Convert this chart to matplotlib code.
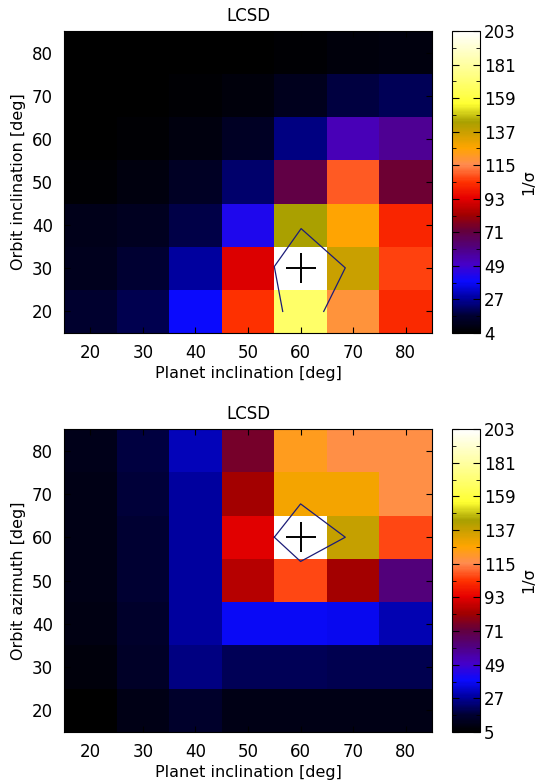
import numpy as np
import matplotlib.pyplot as plt
from matplotlib.colors import LinearSegmentedColormap

# grid of angles (deg)
planet_inc = [20, 30, 40, 50, 60, 70, 80]
orbit_ang = [20, 30, 40, 50, 60, 70, 80]

# 1/sigma, rows = orbit angle 20..80, cols = planet inclination 20..80
top_vals = np.array([
    [15, 19, 38, 103, 168, 118, 102],  # 20
    [11, 16, 27, 92, 203, 137, 106],   # 30
    [10, 12, 18, 42, 143, 126, 101],   # 40
    [6, 8, 13, 22, 70, 109, 73],       # 50
    [4, 6, 8, 13, 24, 52, 58],         # 60
    [4, 4, 6, 7, 11, 17, 20],          # 70
    [4, 4, 4, 4, 6, 7, 8],             # 80
])
bot_vals = np.array([
    [5, 10, 15, 10, 10, 10, 10],       # 20
    [8, 14, 25, 20, 20, 19, 19],       # 30
    [9, 15, 28, 38, 38, 37, 30],       # 40
    [10, 16, 28, 86, 107, 83, 62],     # 50
    [10, 16, 28, 93, 203, 138, 107],   # 60
    [10, 17, 28, 83, 128, 128, 117],   # 70
    [11, 18, 31, 75, 122, 117, 117],   # 80
])

top_cb_labels = ['4', '27', '49', '71', '93', '115', '137', '159', '181', '203']
bot_cb_labels = ['5', '27', '49', '71', '93', '115', '137', '159', '181', '203']

# best-fit contours and best point
top_contour_x = [56.6, 55.0, 60.1, 68.5, 64.4]
top_contour_y = [20.0, 30.4, 39.2, 30.1, 20.0]
bot_contour_x = [55.0, 60.0, 68.5, 60.0, 55.0]
bot_contour_y = [60.0, 67.7, 60.0, 54.4, 60.0]
top_best = (60, 30)
bot_best = (60, 60)

# IDL-like colour table
stops = [
    (0.00, (0, 0, 0)),
    (0.055, (0, 0, 50)),
    (0.115, (0, 0, 160)),
    (0.17, (10, 10, 255)),
    (0.226, (70, 0, 200)),
    (0.28, (80, 0, 130)),
    (0.337, (100, 0, 60)),
    (0.39, (160, 0, 0)),
    (0.447, (230, 0, 0)),
    (0.50, (255, 50, 0)),
    (0.558, (255, 140, 80)),
    (0.613, (255, 165, 0)),
    (0.668, (200, 160, 0)),
    (0.70, (168, 160, 0)),
    (0.76, (255, 255, 50)),
    (0.83, (255, 255, 110)),
    (1.00, (255, 255, 255)),
]
cmap = LinearSegmentedColormap.from_list(
    'idl', [(f, tuple(c / 255 for c in rgb)) for f, rgb in stops])

fig = plt.figure(figsize=(5.38, 7.83), dpi=100)

panels = [
    (top_vals, 4.5, top_cb_labels, 'Orbit inclination [deg]',
     top_contour_x, top_contour_y, top_best, [0.119, 0.5747, 0.684, 0.3857]),
    (bot_vals, 5, bot_cb_labels, 'Orbit azimuth [deg]',
     bot_contour_x, bot_contour_y, bot_best, [0.119, 0.0651, 0.684, 0.387]),
]

edges = np.arange(15, 90, 10)
for vals, vmin, cb_labels, ylab, cx, cy, best, pos in panels:
    ax = fig.add_axes(pos)
    vmax = 203
    mesh = ax.pcolormesh(edges, edges, vals, cmap=cmap, vmin=vmin, vmax=vmax)
    ax.plot(cx, cy, color='#1c1c78', lw=0.9)
    ax.plot(*best, marker='+', color='black', ms=22, mew=1.4)
    ax.set_xlim(15, 85)
    ax.set_ylim(15, 85)
    ax.set_xticks(planet_inc)
    ax.set_yticks(orbit_ang)
    ax.tick_params(direction='in', top=True, right=True, length=4,
                   labelsize=12, pad=8)
    ax.set_xlabel('Planet inclination [deg]', fontsize=11.5, labelpad=3)
    ax.set_ylabel(ylab, fontsize=11.5, labelpad=4)
    ax.set_title('LCSD', fontsize=12, pad=7)

    cax = fig.add_axes([0.840, pos[1], 0.052, pos[3]])
    cb = fig.colorbar(mesh, cax=cax)
    ticks = np.linspace(vmin, vmax, len(cb_labels))
    cb.set_ticks(ticks)
    cb.set_ticklabels(cb_labels)
    cb.ax.set_yticks((ticks[:-1] + ticks[1:]) / 2, minor=True)
    cb.ax.tick_params(which='both', direction='in', left=True, right=True,
                      labelsize=12, pad=3)
    cb.ax.tick_params(which='major', length=5)
    cb.ax.tick_params(which='minor', length=3)
    cb.set_label('1/σ', fontsize=11.5, labelpad=4)

fig.savefig('out.png', dpi=100)
